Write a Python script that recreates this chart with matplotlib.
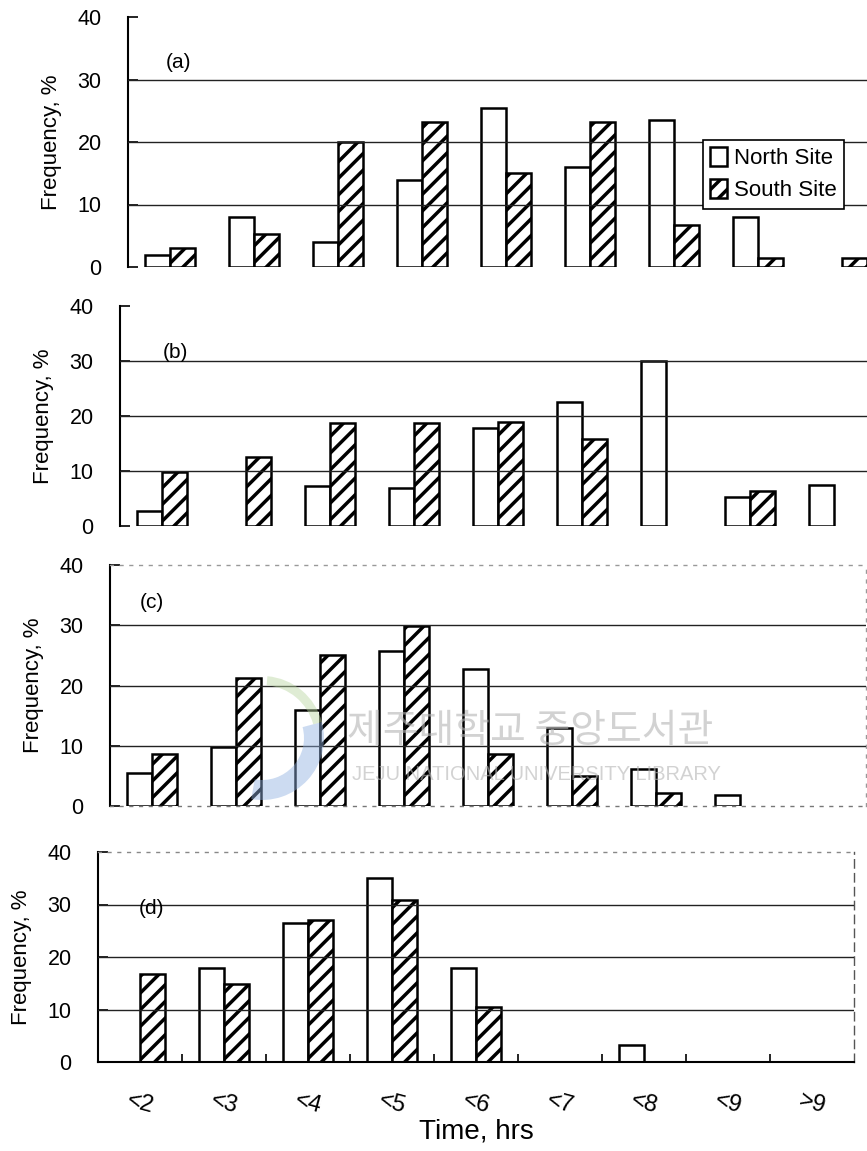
import numpy as np
import matplotlib
matplotlib.use("Agg")
import matplotlib.pyplot as plt
from matplotlib.patches import Patch, Wedge

# ---- data -------------------------------------------------------------
categories = ['<2', '<3', '<4', '<5', '<6', '<7', '<8', '<9', '>9']
series_names = ['North Site', 'South Site']
panel_labels = ['(a)', '(b)', '(c)', '(d)']
y_ticks = [0, 10, 20, 30, 40]

a_north = [2.0, 8.0, 4.0, 14.0, 25.5, 16.0, 23.5, 8.0, 0.0]
a_south = [3.0, 5.3, 20.0, 23.2, 15.0, 23.2, 6.8, 1.4, 1.5]
b_north = [2.7, 0.0, 7.2, 7.0, 17.8, 22.6, 30.0, 5.2, 7.4]
b_south = [9.9, 12.5, 18.8, 18.8, 18.9, 15.9, 0.0, 6.3, 0.0]
c_north = [5.4, 9.8, 16.0, 25.7, 22.8, 12.9, 6.2, 1.8, 0.0]
c_south = [8.7, 21.2, 25.0, 29.8, 8.7, 4.9, 2.2, 0.0, 0.0]
d_north = [0.0, 17.9, 26.4, 35.0, 18.0, 0.0, 3.2, 0.0, 0.0]
d_south = [16.8, 14.9, 27.1, 30.9, 10.4, 0.0, 0.0, 0.0, 0.0]

panels = [(a_north, a_south), (b_north, b_south),
          (c_north, c_south), (d_north, d_south)]

# ---- style ------------------------------------------------------------
plt.rcParams['font.family'] = ['Liberation Sans', 'DejaVu Sans']
plt.rcParams['hatch.linewidth'] = 2.5
plt.rcParams['hatch.color'] = 'black'

W, H = 867, 1151
fig = plt.figure(figsize=(W / 100, H / 100), dpi=100)
fig.patch.set_facecolor('white')

# left edge, top and bottom of each plot area in pixels
layout = [(128, 17, 267), (120, 306, 526), (110, 565, 806), (98, 852, 1062)]
label_pos = [(0.05, 32.8), (0.056, 31.6), (0.04, 33.7), (0.054, 29.3)]
axis_width = 756
bw = 0.3
edge_lw = 1.8

axes = []
for i, ((north, south), (lpx, tpx, bpx)) in enumerate(zip(panels, layout)):
    ax = fig.add_axes([lpx / W, 1 - bpx / H, axis_width / W, (bpx - tpx) / H])
    axes.append(ax)
    x = np.arange(len(categories)) + 0.5
    n = np.asarray(north)
    s = np.asarray(south)
    mn = n > 0
    ms = s > 0
    ax.bar(x[mn] - bw / 2, n[mn], bw, facecolor='white', edgecolor='black',
           linewidth=edge_lw, zorder=2)
    ax.bar(x[ms] + bw / 2, s[ms], bw, facecolor='white', edgecolor='black',
           hatch='//', linewidth=edge_lw, zorder=2)
    for v in y_ticks[1:-1]:
        ax.axhline(v, color='#222222', lw=1.0, zorder=3)

    ax.set_xlim(0, len(categories))
    ax.set_ylim(0, 40)
    ax.set_yticks(y_ticks)
    ax.tick_params(axis='y', direction='in', length=7, width=1.2, pad=19,
                   labelsize=15.5)
    ax.set_ylabel('Frequency, %', fontsize=16)
    ax.yaxis.set_label_coords(-66 / axis_width, 0.5)
    ax.spines['left'].set_linewidth(1.5)
    ax.spines['top'].set_visible(False)
    ax.spines['right'].set_visible(False)
    ax.spines['bottom'].set_visible(False)
    ax.text(label_pos[i][0], label_pos[i][1], panel_labels[i],
            transform=ax.get_yaxis_transform(), fontsize=15,
            ha='left', va='center', zorder=4)

    if i < 3:
        ax.set_xticks([])
    else:
        ax.set_xticks(x)
        ax.set_xticklabels(categories, rotation=-15, fontsize=17)
        ax.tick_params(axis='x', which='major', length=0, pad=20)
        ax.set_xticks(np.arange(1, len(categories)), minor=True)
        ax.tick_params(axis='x', which='minor', direction='in', length=6,
                       width=1.2)
        ax.set_xlabel('Time, hrs', fontsize=20)
        ax.xaxis.set_label_coords(0.5, -0.27)
        ax.spines['bottom'].set_visible(True)
        ax.spines['bottom'].set_linewidth(1.5)
        ax.spines['right'].set_visible(True)
        ax.spines['right'].set_linestyle((0, (6, 4)))
        ax.spines['right'].set_color('#555555')
        ax.spines['right'].set_linewidth(1.0)
        ax.spines['top'].set_visible(True)
        ax.spines['top'].set_linestyle((0, (2, 5)))
        ax.spines['top'].set_color('#888888')
        ax.spines['top'].set_linewidth(1.0)
    if i == 2:
        for side, col in (('top', '#999999'), ('bottom', '#777777'),
                          ('right', '#999999')):
            ax.spines[side].set_visible(True)
            ax.spines[side].set_linestyle((0, (2, 5)))
            ax.spines[side].set_color(col)
            ax.spines[side].set_linewidth(1.0)

# legend in the first panel
handles = [Patch(facecolor='white', edgecolor='black', linewidth=edge_lw),
           Patch(facecolor='white', edgecolor='black', hatch='//',
                 linewidth=edge_lw)]
leg = axes[0].legend(handles, series_names, loc='upper left',
                     bbox_to_anchor=(0.76, 0.51), frameon=True,
                     fancybox=False, edgecolor='black', framealpha=1,
                     handlelength=0.75, handleheight=0.9, handletextpad=0.3,
                     borderpad=0.35, labelspacing=0.45, fontsize=16,
                     borderaxespad=0)
leg.get_frame().set_linewidth(1.2)

# library watermark over panel (c)
fig.text(530 / W, 1 - 731 / H, '제주대학교 중앙도서관',
         family=['Noto Sans CJK KR', 'DejaVu Sans'], fontsize=28,
         color='#b5b5b5', alpha=0.6, ha='center', va='center', zorder=10)
fig.text(536 / W, 1 - 775 / H, 'JEJU NATIONAL UNIVERSITY LIBRARY',
         fontsize=14.5, color='#b5b5b5', alpha=0.6, ha='center',
         va='center', zorder=10)
cx, cy, r = 262 / 100, (H - 738) / 100, 0.62
fig.add_artist(Wedge((cx, cy), r, -100, 15, width=0.2,
                     transform=fig.dpi_scale_trans, facecolor='#8fb0e0',
                     edgecolor='none', alpha=0.45, zorder=9))
fig.add_artist(Wedge((cx, cy), r, 15, 85, width=0.09,
                     transform=fig.dpi_scale_trans, facecolor='#b9d7a0',
                     edgecolor='none', alpha=0.45, zorder=9))

fig.savefig('out.png', dpi=100, facecolor='white')
